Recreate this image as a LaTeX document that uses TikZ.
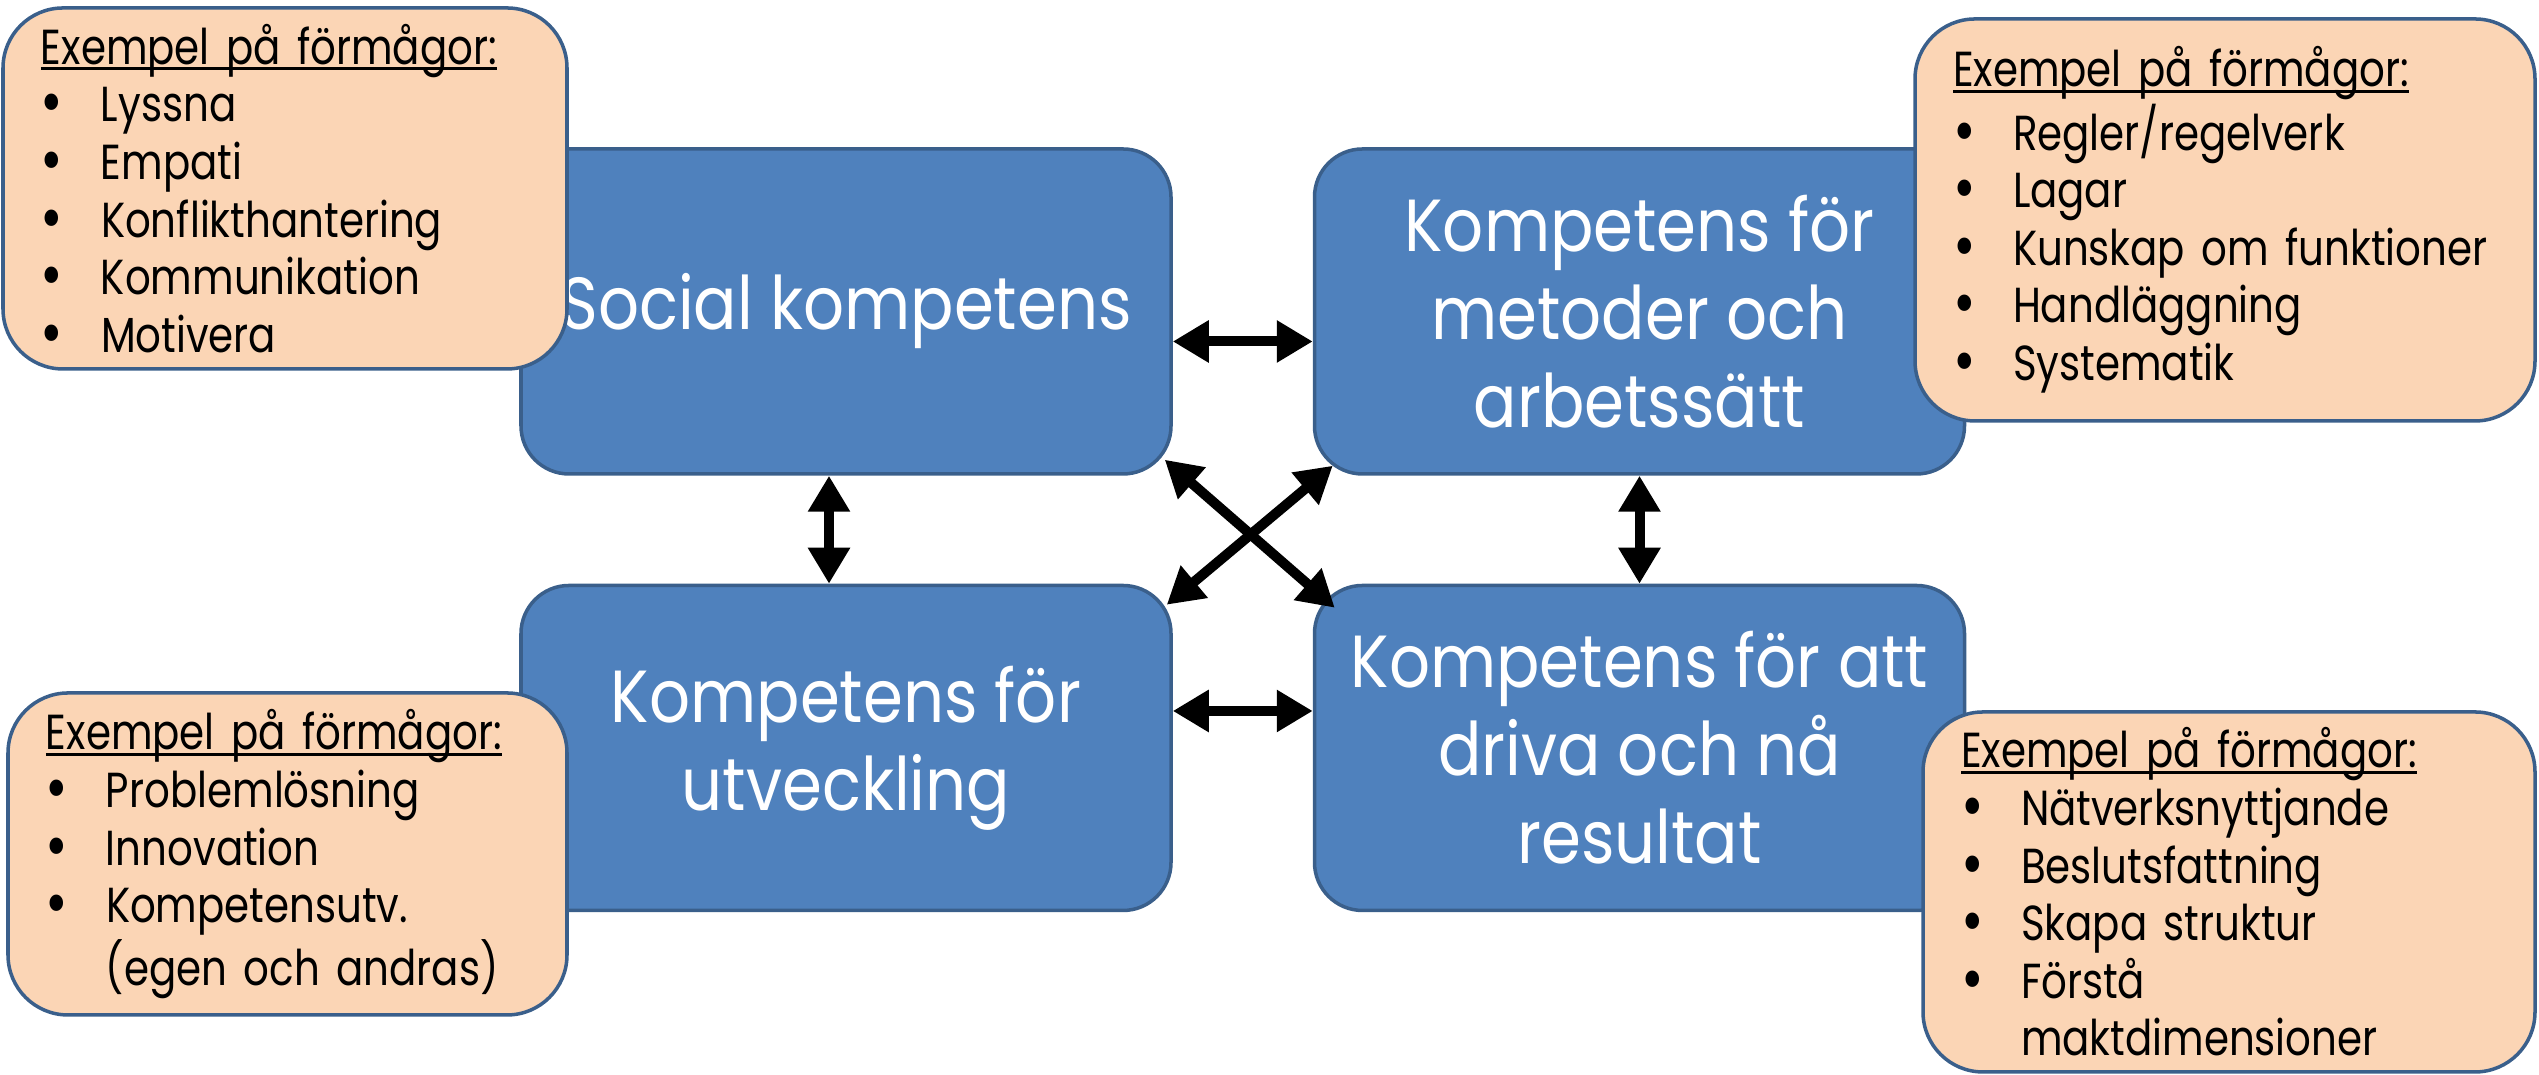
\documentclass[tikz,border=0pt]{standalone}
\usepackage{fontspec}
\setmainfont[FakeStretch=0.82]{Poppins}
\newfontfamily\boxfont[FakeStretch=0.87]{Poppins}
\usetikzlibrary{arrows.meta}
\definecolor{boxblue}{HTML}{4F81BD}
\definecolor{edgeblue}{HTML}{3A5F8B}
\definecolor{peach}{HTML}{FBD5B5}
\newcommand{\itm}[1]{\makebox[0.6cm][l]{\smash{\raisebox{-0.03cm}{\fontsize{19}{19}\selectfont\textbullet}}}#1}
\newcommand{\cont}[1]{\hspace{0.6cm}#1}
\newcommand{\head}{\setbox0\hbox{Exempel på förmågor:}\rlap{\rule[-0.06cm]{\wd0}{0.8pt}}\box0}
\begin{document}
\begin{tikzpicture}[line join=round,>={Triangle[length=0.36cm,width=0.4cm]},
box/.style={draw=edgeblue,line width=1pt,fill=boxblue,rounded corners=0.48cm,minimum width=6.5cm,minimum height=3.25cm,text=white,align=center,font=\boxfont\fontsize{21}{25}\selectfont},
note/.style={draw=edgeblue,line width=1pt,fill=peach,rounded corners=0.6cm,align=left,inner xsep=0.38cm,inner ysep=0.05cm,font=\fontsize{14}{16.4}\selectfont},
link/.style={<->,line width=0.1cm}]
\useasboundingbox (0,0) rectangle (25.39,10.75);
\node[box] (soc) at (8.46,7.635) {Social kompetens};
\node[box] (met) at (16.395,7.635) {Kompetens för\\metoder och\\arbetssätt};
\node[box] (utv) at (8.46,3.27) {Kompetens för\\utveckling};
\node[box] (res) at (16.395,3.27) {Kompetens för att\\driva och nå\\resultat};
\node[note,text width=4.88cm,minimum height=3.61cm] (socnote) at (2.85,8.865)
{\head\\\itm{Lyssna}\\\itm{Empati}\\\itm{Konflikthantering}\\\itm{Kommunikation}\\\itm{Motivera}};
\node[note,text width=5.44cm,minimum height=4.02cm] (metnote) at (22.25,8.55)
{\head\\\itm{Regler/regelverk}\\\itm{Lagar}\\\itm{Kunskap om funktioner}\\\itm{Handläggning}\\\itm{Systematik}};
\node[note,text width=4.83cm,minimum height=3.22cm] (utvnote) at (2.875,2.21)
{\head\\\itm{Problemlösning}\\\itm{Innovation}\\\itm{Kompetensutv.}\\\cont{(egen och andras)}};
\node[note,text width=5.36cm,minimum height=3.6cm] (resnote) at (22.29,1.83)
{\head\\\itm{Nätverksnyttjande}\\\itm{Beslutsfattning}\\\itm{Skapa struktur}\\\itm{Förstå}\\\cont{maktdimensioner}};
\draw[link] ([yshift=-0.3cm]soc.east)--([yshift=-0.3cm]met.west);
\draw[link] ([yshift=0.37cm]utv.east)--([yshift=0.37cm]res.west);
\draw[link] ([xshift=-0.17cm]soc.south)--([xshift=-0.17cm]utv.north);
\draw[link] (met.south)--(res.north);
\draw[link] ([shift={(-0.08,0.16)}]soc.south east)--([shift={(0.22,-0.24)}]res.north west);
\draw[link] ([shift={(0.2,0.1)}]met.south west)--([shift={(-0.06,-0.21)}]utv.north east);
\end{tikzpicture}
\end{document}
